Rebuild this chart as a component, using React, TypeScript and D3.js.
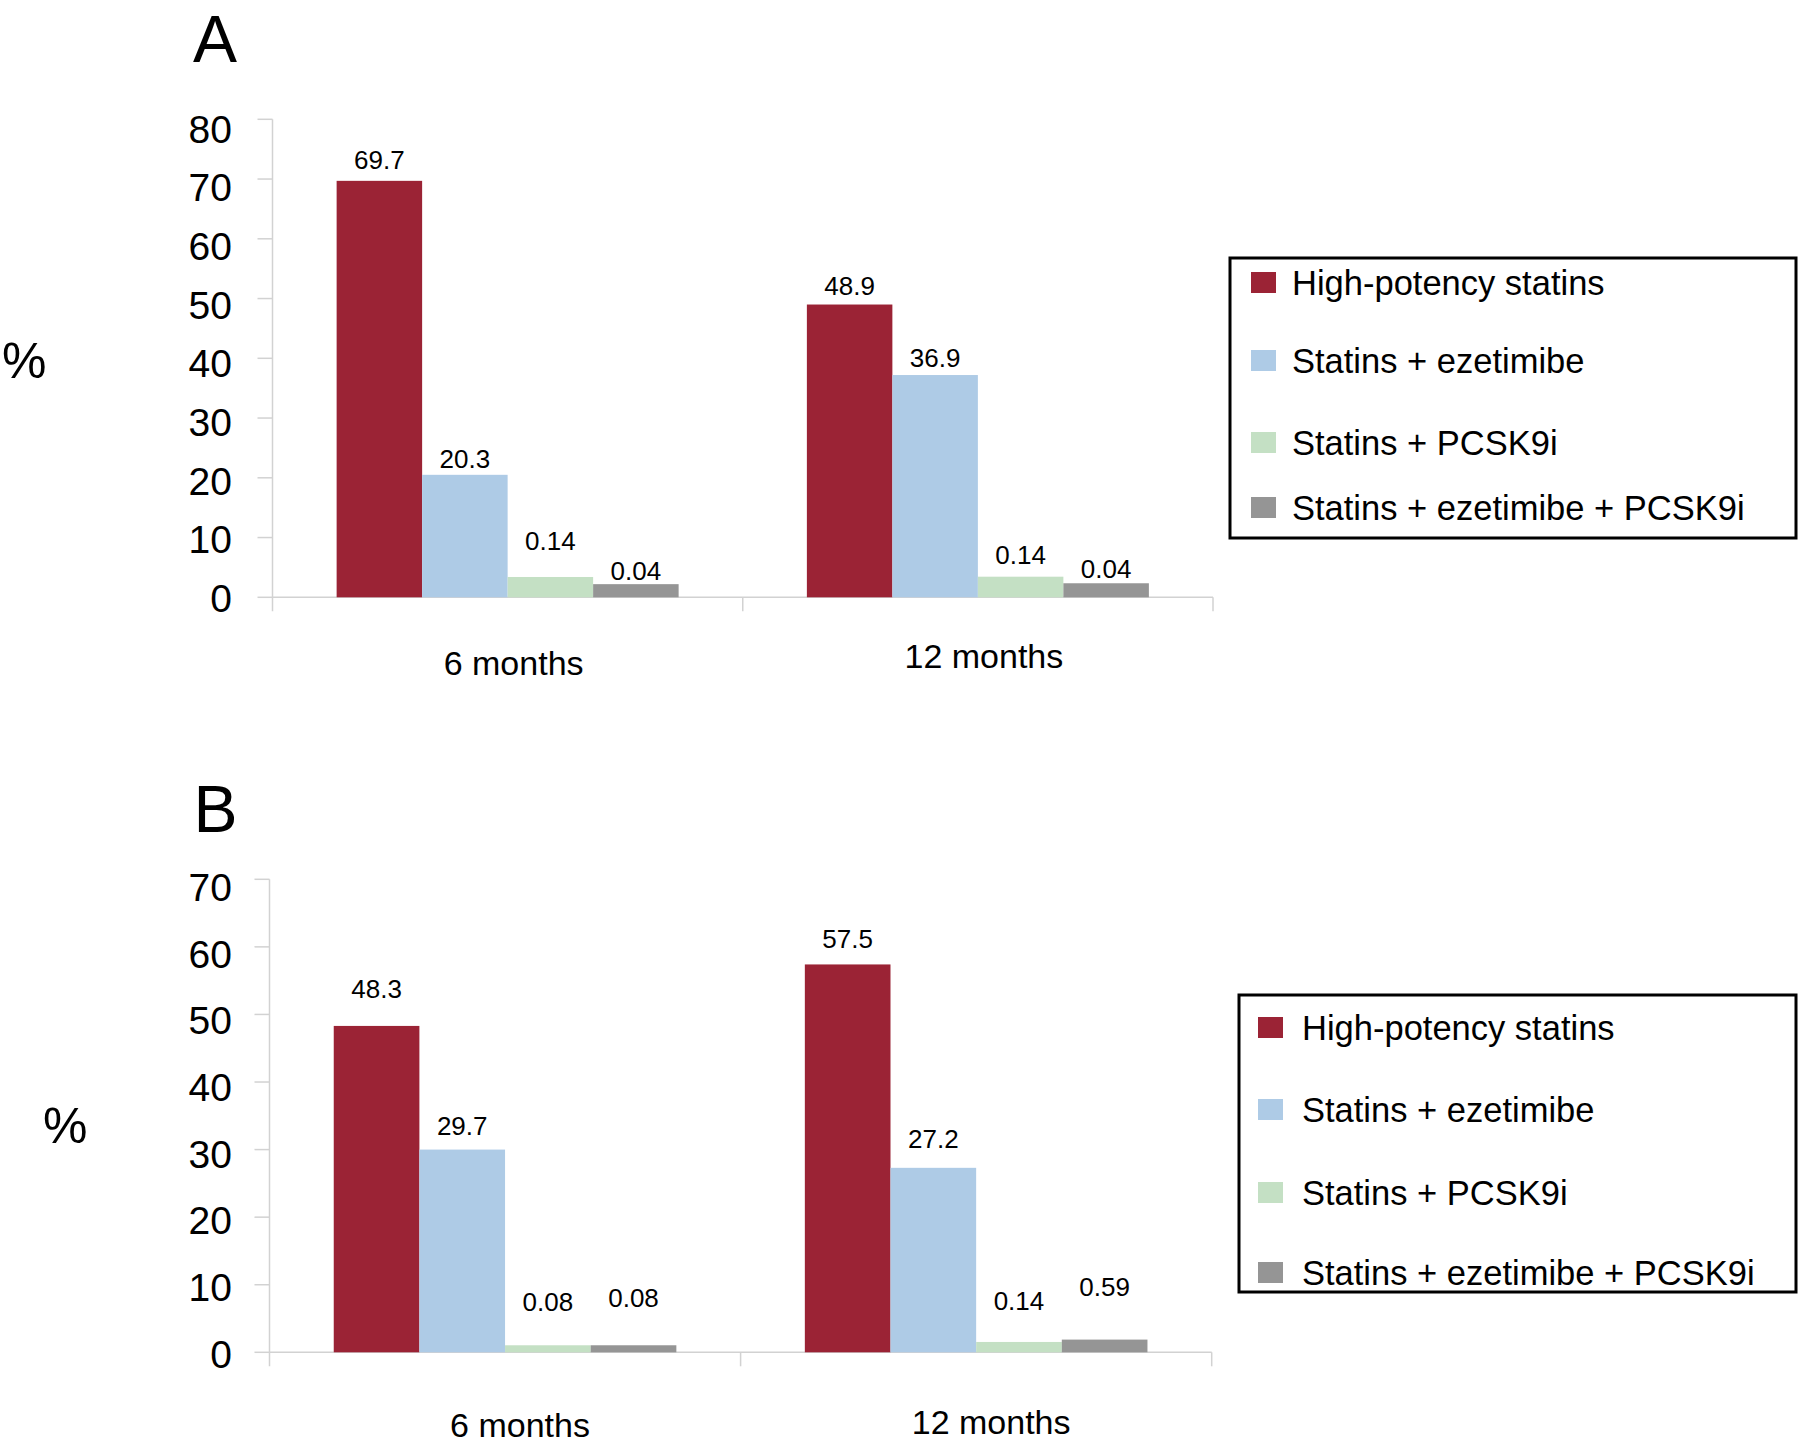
import React from "react";
import * as d3 from "d3";

// ---------- data ----------
const categories = ["6 months", "12 months"];
const seriesNames = [
  "High-potency statins",
  "Statins + ezetimibe",
  "Statins + PCSK9i",
  "Statins + ezetimibe + PCSK9i",
];
const seriesColors = ["#9B2335", "#AECBE6", "#C4E0C4", "#959595"];

// Panel A: bar heights as drawn, printed labels, label levels (data units)
const barsA = [
  [69.7, 20.5, 3.4, 2.2],
  [49.0, 37.2, 3.45, 2.35],
];
const labelsA = [
  ["69.7", "20.3", "0.14", "0.04"],
  ["48.9", "36.9", "0.14", "0.04"],
];
const labelLevelA = [
  [71.6, 21.7, 7.9, 2.9],
  [50.6, 38.6, 5.6, 3.2],
];
const ticksA = [0, 10, 20, 30, 40, 50, 60, 70, 80];

// Panel B
const barsB = [
  [48.3, 30.0, 1.04, 1.04],
  [57.4, 27.3, 1.53, 1.88],
];
const labelsB = [
  ["48.3", "29.7", "0.08", "0.08"],
  ["57.5", "27.2", "0.14", "0.59"],
];
const labelLevelB = [
  [52.4, 32.2, 6.1, 6.7],
  [59.8, 30.2, 6.2, 8.4],
];
const ticksB = [0, 10, 20, 30, 40, 50, 60, 70];

const FONT = "'Liberation Sans', Arial, Helvetica, sans-serif";
const AXIS = "#d2d2d2";

type PanelProps = {
  letter: string;
  letterX: number;
  letterY: number;
  pctX: number;
  pctY: number;
  bars: number[][];
  labels: string[][];
  levels: number[][];
  ticks: number[];
  max: number;
  xLeft: number;
  xRight: number;
  yTop: number;
  y0: number;
  tickLabelTop: number;
  tickLabelBottom: number;
  catDx: number;
  catBaselines: number[];
  legend: { x: number; y: number; w: number; h: number; textX: number; swX: number; baselines: number[] };
};

function Panel(p: PanelProps) {
  const y = d3.scaleLinear().domain([0, p.max]).range([p.y0, p.yTop]);
  const yLab = d3.scaleLinear().domain([0, p.max]).range([p.tickLabelBottom, p.tickLabelTop]);
  const x0 = d3.scaleBand<string>().domain(categories).range([p.xLeft, p.xRight]).paddingInner(0).paddingOuter(0);
  const x1 = d3
    .scaleBand<string>()
    .domain(seriesNames)
    .range([0, x0.bandwidth()])
    .paddingInner(0)
    .paddingOuter(0.75);

  return (
    <g>
      <text x={p.letterX} y={p.letterY} fontSize={66} textAnchor="middle" fontFamily={FONT} fill="#000">
        {p.letter}
      </text>
      <text x={p.pctX} y={p.pctY} fontSize={50} fontFamily={FONT} fill="#000">
        %
      </text>

      {/* y axis */}
      <line x1={p.xLeft} x2={p.xLeft} y1={p.yTop} y2={p.y0 + 14} stroke={AXIS} strokeWidth={1.5} />
      {p.ticks.map((t) => (
        <g key={t}>
          <line x1={p.xLeft - 15} x2={p.xLeft} y1={y(t)} y2={y(t)} stroke={AXIS} strokeWidth={1.5} />
          <text
            x={232}
            y={yLab(t)}
            dy="0.36em"
            textAnchor="end"
            fontSize={39}
            fontFamily={FONT}
            fill="#000"
          >
            {t}
          </text>
        </g>
      ))}

      {/* x axis */}
      <line x1={p.xLeft} x2={p.xRight} y1={p.y0} y2={p.y0} stroke={AXIS} strokeWidth={1.5} />
      {categories.map((c) => (
        <line
          key={"sep" + c}
          x1={(x0(c) as number) + x0.bandwidth()}
          x2={(x0(c) as number) + x0.bandwidth()}
          y1={p.y0}
          y2={p.y0 + 14}
          stroke={AXIS}
          strokeWidth={1.5}
        />
      ))}

      {/* bars */}
      {categories.map((c, ci) => (
        <g key={c} transform={`translate(${x0(c)},0)`}>
          {seriesNames.map((s, si) => {
            const v = p.bars[ci][si];
            return (
              <rect
                key={s}
                x={x1(s)}
                y={y(v)}
                width={x1.bandwidth()}
                height={y(0) - y(v)}
                fill={seriesColors[si]}
              />
            );
          })}
          {seriesNames.map((s, si) => (
            <text
              key={"l" + s}
              x={(x1(s) as number) + x1.bandwidth() / 2}
              y={y(p.levels[ci][si])}
              textAnchor="middle"
              fontSize={26}
              fontFamily={FONT}
              fill="#000"
            >
              {p.labels[ci][si]}
            </text>
          ))}
          <text
            x={x0.bandwidth() / 2 + p.catDx}
            y={p.catBaselines[ci]}
            textAnchor="middle"
            fontSize={34}
            fontFamily={FONT}
            fill="#000"
          >
            {c}
          </text>
        </g>
      ))}

      {/* legend */}
      <rect
        x={p.legend.x}
        y={p.legend.y}
        width={p.legend.w}
        height={p.legend.h}
        fill="none"
        stroke="#000"
        strokeWidth={3}
      />
      {seriesNames.map((s, si) => (
        <g key={"lg" + s}>
          <rect x={p.legend.swX} y={p.legend.baselines[si] - 23} width={25} height={21} fill={seriesColors[si]} />
          <text x={p.legend.textX} y={p.legend.baselines[si]} fontSize={34.5} fontFamily={FONT} fill="#000">
            {s}
          </text>
        </g>
      ))}
    </g>
  );
}

export default function App() {
  return (
    <svg
      width={1799}
      height={1454}
      viewBox="0 0 1799 1454"
      style={{ position: "absolute", left: 0, top: 0, background: "#fff" }}
    >
      <rect x={0} y={0} width={1799} height={1454} fill="#fff" />
      <Panel
        letter="A"
        letterX={215}
        letterY={62}
        pctX={2}
        pctY={378}
        bars={barsA}
        labels={labelsA}
        levels={labelLevelA}
        ticks={ticksA}
        max={80}
        xLeft={272.5}
        xRight={1213}
        yTop={119.3}
        y0={597.3}
        tickLabelTop={128.8}
        tickLabelBottom={598}
        catDx={6}
        catBaselines={[675, 668]}
        legend={{ x: 1230, y: 258, w: 566, h: 280, textX: 1292, swX: 1251, baselines: [295, 373, 455, 520] }}
      />
      <Panel
        letter="B"
        letterX={215.5}
        letterY={832}
        pctX={43}
        pctY={1143}
        bars={barsB}
        labels={labelsB}
        levels={labelLevelB}
        ticks={ticksB}
        max={70}
        xLeft={269.5}
        xRight={1211.7}
        yTop={879.3}
        y0={1352.3}
        tickLabelTop={887}
        tickLabelBottom={1353.5}
        catDx={15}
        catBaselines={[1437, 1434]}
        legend={{ x: 1239, y: 995, w: 557, h: 297, textX: 1302, swX: 1258, baselines: [1040, 1122, 1205, 1285] }}
      />
    </svg>
  );
}
